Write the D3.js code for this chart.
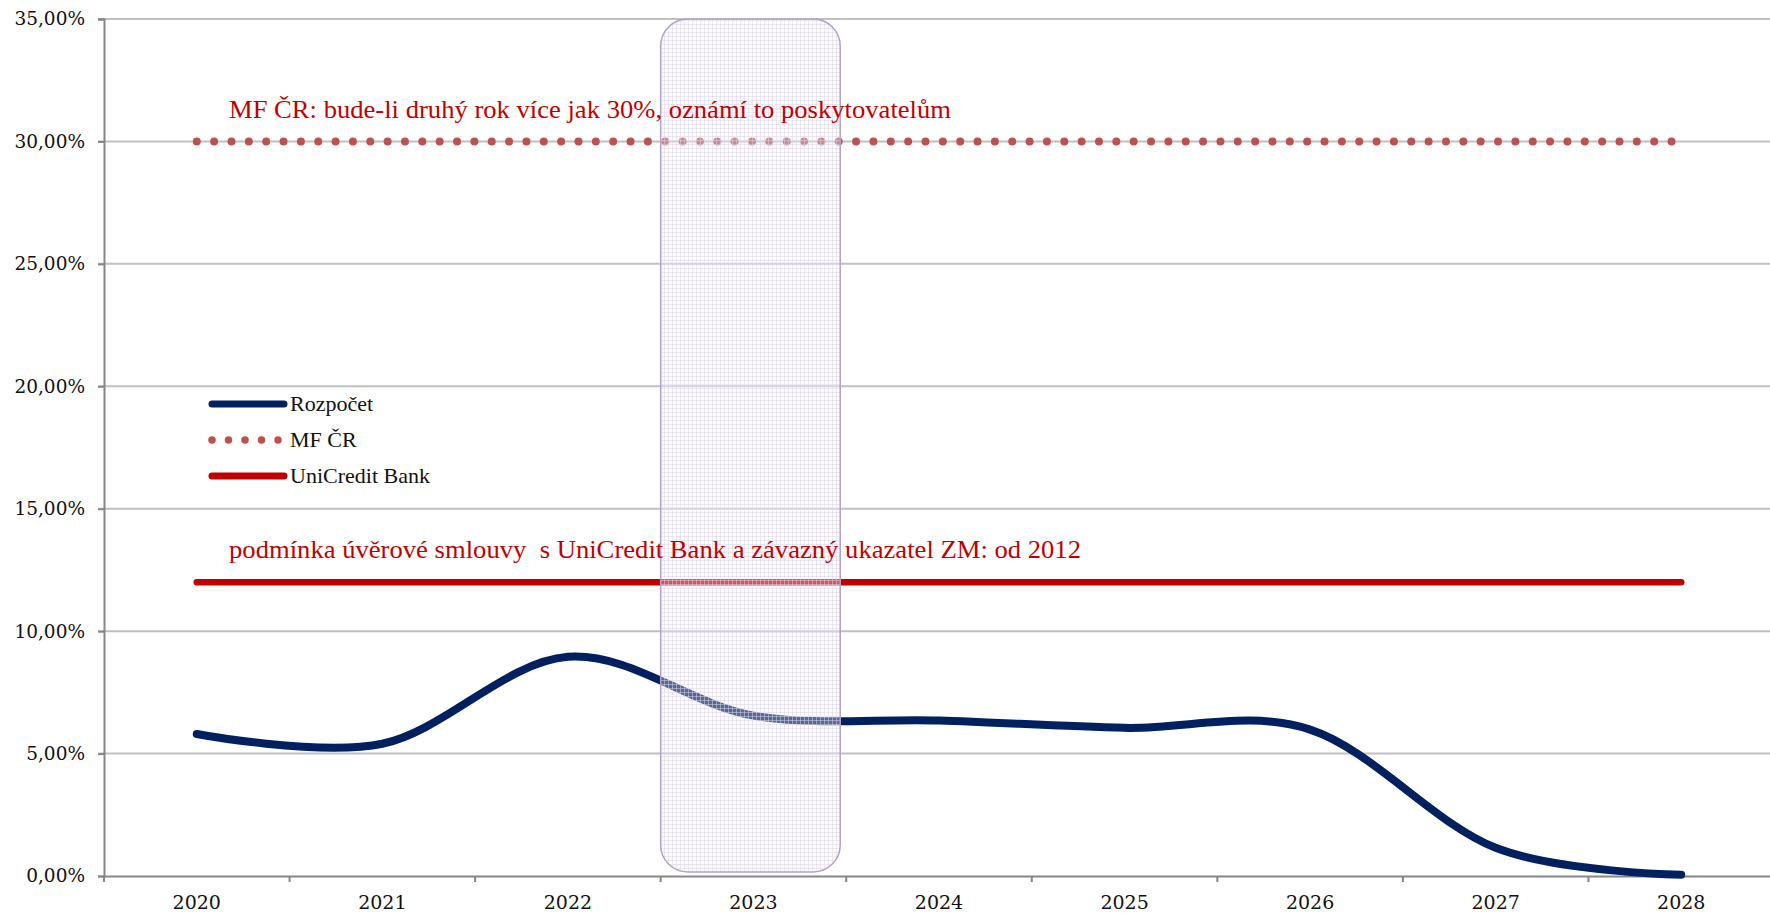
<!DOCTYPE html>
<html>
<head>
<meta charset="utf-8">
<script src="https://cdn.jsdelivr.net/npm/d3@7"></script>
<style>
  body { margin: 0; background: #fff; }
</style>
</head>
<body>
<svg id="chart"></svg>
<script>

var years = ["2020", "2021", "2022", "2023", "2024", "2025", "2026", "2027", "2028"]
var rozpocet = [5.8, 5.4, 8.95, 6.55, 6.35, 6.05, 5.98, 1.15, 0.05]
var mfcr = [30, 30, 30, 30, 30, 30, 30, 30, 30]
var unicredit = [12, 12, 12, 12, 12, 12, 12, 12, 12]
var yTicks = [0, 5, 10, 15, 20, 25, 30, 35]
var highlightYear = "2023"

var legendNames = ["Rozpočet", "MF ČR", "UniCredit Bank"]
var noteMF = "MF ČR: bude-li druhý rok více jak 30%, oznámí to poskytovatelům"
var noteUC = "podmínka úvěrové smlouvy  s UniCredit Bank a závazný ukazatel ZM: od 2012"

var width = 1770
var height = 914

var svg = d3.select("#chart")
            .attr("width", width)
            .attr("height", height)

var xScale = d3.scaleBand()
    .domain(years)
    .range([104, 1774])

var yScale = d3.scaleLinear()
    .domain([0, 35])
    .range([876, 19])

function xc(i){ return xScale(years[i]) + xScale.bandwidth() / 2 }

var fmt = function(d){ return d3.format(".2f")(d).replace(".", ",") + "%" }

// pattern for the highlighted year
var pat = svg.append("defs").append("pattern")
    .attr("id", "hatch")
    .attr("width", 4)
    .attr("height", 4)
    .attr("patternUnits", "userSpaceOnUse")
pat.append("rect").attr("width", 4).attr("height", 4).attr("fill", "#f6f3fa").attr("opacity", 0.35)
pat.append("rect").attr("width", 4).attr("height", 1).attr("fill", "#dcd5e8").attr("opacity", 0.5)
pat.append("rect").attr("width", 1).attr("height", 4).attr("fill", "#dcd5e8").attr("opacity", 0.5)

// gridlines
svg.append("g")
    .selectAll("line")
    .data(yTicks.filter(function(d){ return d > 0 }))
    .enter().append("line")
    .attr("x1", 98)
    .attr("x2", width)
    .attr("y1", function(d){ return yScale(d) })
    .attr("y2", function(d){ return yScale(d) })
    .attr("stroke", "#c0c0c0")
    .attr("stroke-width", 2)

// y axis
var y_axis = d3.axisLeft()
    .scale(yScale)
    .tickValues(yTicks)
    .tickFormat(fmt)
    .tickSize(6)
    .tickPadding(13)

var yg = svg.append("g")
    .attr("transform", "translate(104,0)")
    .call(y_axis)
yg.select(".domain").attr("stroke", "#868686").attr("stroke-width", 2)
yg.selectAll(".tick line").attr("stroke", "#868686").attr("stroke-width", 2)
yg.selectAll(".tick text")
    .attr("font-family", "DejaVu Serif")
    .attr("font-size", 18.5)
    .attr("fill", "#111")

// x axis
var x_axis = d3.axisBottom()
    .scale(xScale)
    .tickSize(0)
    .tickPadding(20)

var xg = svg.append("g")
    .attr("transform", "translate(0,876)")
    .call(x_axis)
xg.select(".domain").attr("stroke", "#868686").attr("stroke-width", 2)
xg.selectAll(".tick text")
    .attr("font-family", "DejaVu Serif")
    .attr("font-size", 19)
    .attr("fill", "#111")

xg.selectAll(".sep")
    .data(years)
    .enter().append("line")
    .attr("x1", function(d){ return xScale(d) })
    .attr("x2", function(d){ return xScale(d) })
    .attr("y1", 0)
    .attr("y2", 6)
    .attr("stroke", "#868686")
    .attr("stroke-width", 2)

var line = d3.line()
    .x(function(d, i){ return xc(i) })
    .y(function(d){ return yScale(d) })

svg.append("path")
    .datum(unicredit)
    .attr("d", line)
    .attr("fill", "none")
    .attr("stroke", "#c00000")
    .attr("stroke-width", 6.5)
    .attr("stroke-linecap", "round")

svg.append("path")
    .datum(mfcr)
    .attr("d", line)
    .attr("fill", "none")
    .attr("stroke", "#c0504d")
    .attr("stroke-width", 8)
    .attr("stroke-linecap", "round")
    .attr("stroke-dasharray", "0 17.35")

svg.append("path")
    .datum(rozpocet)
    .attr("d", line.curve(d3.curveCardinal.tension(0)))
    .attr("fill", "none")
    .attr("stroke", "#002060")
    .attr("stroke-width", 8)
    .attr("stroke-linecap", "round")

// highlighted year box
svg.append("rect")
    .attr("x", xScale(highlightYear))
    .attr("y", yScale(35))
    .attr("width", xScale.bandwidth() - 6)
    .attr("height", yScale(0) - yScale(35) - 4)
    .attr("rx", 27)
    .attr("fill", "url(#hatch)")
    .attr("stroke", "#b3a2c7")
    .attr("stroke-width", 1.5)

// annotations
svg.append("text")
    .attr("x", 229)
    .attr("y", 118)
    .attr("textLength", 722)
    .attr("lengthAdjust", "spacingAndGlyphs")
    .attr("font-family", "Liberation Serif")
    .attr("font-size", 26)
    .attr("fill", "#c00000")
    .text(noteMF)

svg.append("text")
    .attr("x", 229)
    .attr("y", 558)
    .attr("textLength", 852)
    .attr("lengthAdjust", "spacingAndGlyphs")
    .attr("font-family", "Liberation Serif")
    .attr("font-size", 26)
    .attr("fill", "#c00000")
    .style("white-space", "pre")
    .text(noteUC)

// legend
var legend = svg.append("g").attr("transform", "translate(212,404)")
var lg = legend.selectAll("g")
    .data(legendNames)
    .enter().append("g")
    .attr("transform", function(d, i){ return "translate(0," + (i * 36) + ")" })

lg.append("line")
    .attr("x1", 0)
    .attr("x2", function(d, i){ return i == 1 ? 67 : 72 })
    .attr("y1", 0)
    .attr("y2", 0)
    .attr("stroke", function(d, i){ return ["#002060", "#c0504d", "#c00000"][i] })
    .attr("stroke-width", function(d, i){ return i == 1 ? 7.5 : 7 })
    .attr("stroke-linecap", "round")
    .attr("stroke-dasharray", function(d, i){ return i == 1 ? "0 16.5" : null })

lg.append("text")
    .attr("x", 78)
    .attr("y", 7)
    .attr("font-family", "Liberation Serif")
    .attr("font-size", 22)
    .attr("fill", "#111")
    .text(function(d){ return d })

</script>
</body>
</html>
